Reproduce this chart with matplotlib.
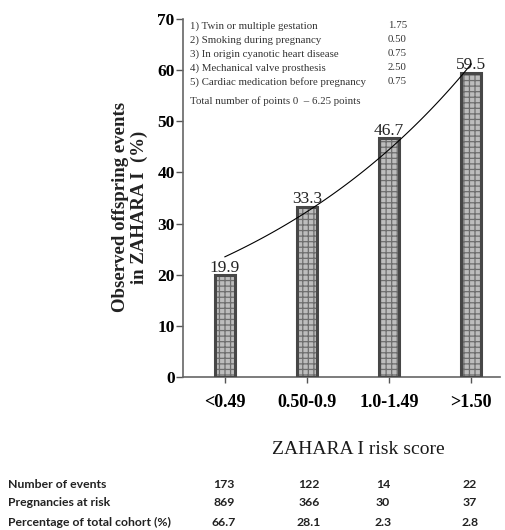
import numpy as np
import matplotlib
matplotlib.use("Agg")
import matplotlib.pyplot as plt

# ZAHARA I risk score groups and observed offspring events (%)
categories = ["<0.49", "0.50-0.9", "1.0-1.49", ">1.50"]
observed = [19.9, 33.3, 46.7, 59.5]

# exponential trend through the groups (first and last group levels)
trend_ends = [23.5, 61.2]

# risk factors and their points
factors = ["1) Twin or multiple gestation",
           "2) Smoking during pregnancy",
           "3) In origin cyanotic heart disease",
           "4) Mechanical valve prosthesis",
           "5) Cardiac medication before pregnancy"]
factor_points = ["1.75", "0.50", "0.75", "2.50", "0.75"]
total_note = "Total number of points 0  \u2013 6.25 points"

# table under the chart
row_labels = ["Number of events", "Pregnancies at risk",
              "Percentage of total cohort (%)"]
n_events = ["173", "122", "14", "22"]
n_at_risk = ["869", "366", "30", "37"]
pct_cohort = ["66.7", "28.1", "2.3", "2.8"]

W, H = 505, 530
plt.rcParams["hatch.linewidth"] = 0.9
serif = ["Liberation Serif", "DejaVu Serif"]

fig = plt.figure(figsize=(W / 100, H / 100), dpi=100)
ax = fig.add_axes([183 / W, 1 - 377 / H, (500 - 183) / W, (377 - 19) / H])

x = np.arange(len(categories))
# filled hatched bars, then a heavier outline on top
ax.bar(x, observed, width=0.24, color="#bdbdbd", edgecolor="#6e6e6e",
       hatch="+++", linewidth=0, zorder=2)
ax.bar(x, observed, width=0.24, fill=False, edgecolor="#474747",
       linewidth=2.2, zorder=3)

for xi, v in zip(x, observed):
    ax.annotate(f"{v}", (xi, v), xytext=(0, 2.5), textcoords="offset points",
                ha="center", va="baseline", fontsize=12.5, family=serif,
                color="#222222")

a, b = trend_ends
xs = np.linspace(0, 3, 100)
ax.plot(xs, a * (b / a) ** (xs / 3), color="black", lw=0.8, zorder=4)

ax.set_xlim(-0.51, 3.35)
ax.set_ylim(0, 70)
ax.set_yticks(range(0, 71, 10))
ax.set_xticks(x)
ax.set_xticklabels(categories)
for lab in ax.get_xticklabels():
    lab.set_fontfamily(serif)
    lab.set_fontweight("bold")
    lab.set_fontsize(13)
for lab in ax.get_yticklabels():
    lab.set_fontfamily(serif)
    lab.set_fontweight("bold")
    lab.set_fontsize(12.5)
ax.tick_params(axis="x", length=4, width=1, color="#555555", pad=8)
ax.tick_params(axis="y", length=5, width=1, color="#555555", pad=1)
for s in ["top", "right"]:
    ax.spines[s].set_visible(False)
for s in ["left", "bottom"]:
    ax.spines[s].set_color("#666666")
    ax.spines[s].set_linewidth(1.2)

fig.text(130 / W, 1 - 207 / H, "Observed offspring events\nin ZAHARA I  (%)",
         rotation=90, ha="center", va="center", multialignment="center",
         fontsize=13.5, fontweight="bold", family=serif, linespacing=1.1,
         color="#222222")

# inset list of risk factors
line_y = [26, 40, 54, 68, 82]
for ty, name, pts in zip(line_y, factors, factor_points):
    fig.text(190 / W, 1 - ty / H, name, ha="left", va="center",
             fontsize=7.8, family=serif, color="#333333")
    fig.text(388 / W, 1 - ty / H, pts, ha="left", va="center",
             fontsize=7.8, family=serif, color="#333333")
fig.text(190 / W, 1 - 101 / H, total_note, ha="left", va="center",
         fontsize=7.8, family=serif, color="#333333")

fig.text(358 / W, 1 - 450 / H, "ZAHARA I risk score", ha="center",
         va="center", fontsize=14, family=serif, color="#1a1a1a")

col_x = [224, 309, 383, 470]
row_y = [485, 503, 522]
for ry, label, vals in zip(row_y, row_labels, [n_events, n_at_risk, pct_cohort]):
    fig.text(8 / W, 1 - ry / H, label, ha="left", va="center",
             fontsize=8.8, fontweight="bold", family="Lato", color="#222222")
    for cx, v in zip(col_x, vals):
        fig.text(cx / W, 1 - ry / H, v, ha="center", va="center",
                 fontsize=8.8, fontweight="bold", family="Lato", color="#222222")

fig.savefig("out.png", dpi=100)
